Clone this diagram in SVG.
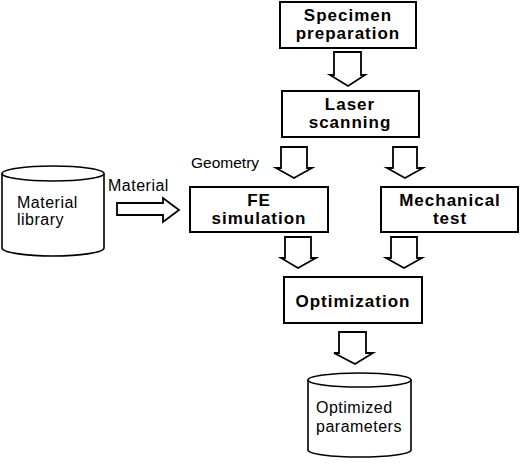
<svg xmlns="http://www.w3.org/2000/svg" width="520" height="465" viewBox="0 0 520 465">
<style>
.box{fill:#fff;stroke:#000;stroke-width:2}
.cyl{fill:#fff;stroke:#000;stroke-width:1.6}
.arr{fill:#fff;stroke:#000;stroke-width:1.8;stroke-linejoin:miter}
.b{font-family:"Liberation Sans",Arial,sans-serif;font-weight:bold;font-size:17px;letter-spacing:1px;text-anchor:middle;fill:#000}
.n{font-family:"Liberation Sans",Arial,sans-serif;font-size:16px;letter-spacing:0.5px;fill:#000}
</style>
<rect width="520" height="465" fill="#fff"/>
<g id="connectors">
<polygon class="arr" points="334,52 361,52 361,75 365,75 348,86 330,75 334,75"/>
<polygon class="arr" points="281,147 307,147 307,168 312,168 294,178 276,168 281,168"/>
<polygon class="arr" points="393,147 417,147 417,168 423,168 405,178 387,168 393,168"/>
<polygon class="arr" points="285,237 311,237 311,258 316,258 298,268 281,258 285,258"/>
<polygon class="arr" points="391,237 417,237 417,258 422,258 404,268 386,258 391,258"/>
<polygon class="arr" points="339,332 366,332 366,353 373,353 355,364 334,353 339,353"/>
<polygon class="arr" points="117,203 163,203 163,198 179,210 163,222 163,215 117,215"/>
<text class="n" x="108" y="191">Material</text>
<text class="n" x="191" y="168" style="font-size:15.5px;letter-spacing:0">Geometry</text>
</g>
<g id="specimen">
<rect class="box" x="280" y="2" width="136" height="46"/>
<text class="b" x="348" y="21">Specimen</text>
<text class="b" x="348" y="39">preparation</text>
</g>
<g id="laser">
<rect class="box" x="282" y="91" width="137" height="46"/>
<text class="b" x="350" y="110">Laser</text>
<text class="b" x="350" y="128">scanning</text>
</g>
<g id="fe">
<rect class="box" x="190" y="187" width="138" height="45"/>
<text class="b" x="259" y="206">FE</text>
<text class="b" x="259" y="224">simulation</text>
</g>
<g id="mechanical">
<rect class="box" x="381" y="187" width="137" height="45"/>
<text class="b" x="450" y="206">Mechanical</text>
<text class="b" x="450" y="224">test</text>
</g>
<g id="optimization">
<rect class="box" x="284" y="277" width="138" height="46"/>
<text class="b" x="353" y="307">Optimization</text>
</g>
<g id="library">
<path class="cyl" d="M2,173.5 L2,248 A51,8 0 0 0 104,248 L104,173.5"/>
<ellipse class="cyl" cx="53" cy="173.5" rx="51" ry="7.5"/>
<text class="n" x="17" y="208">Material</text>
<text class="n" x="17" y="225">library</text>
</g>
<g id="parameters">
<path class="cyl" d="M308,380 L308,450 A51.5,7 0 0 0 411,450 L411,380"/>
<ellipse class="cyl" cx="359.5" cy="380" rx="51.5" ry="7"/>
<text class="n" x="316" y="413">Optimized</text>
<text class="n" x="316" y="432">parameters</text>
</g>
</svg>
